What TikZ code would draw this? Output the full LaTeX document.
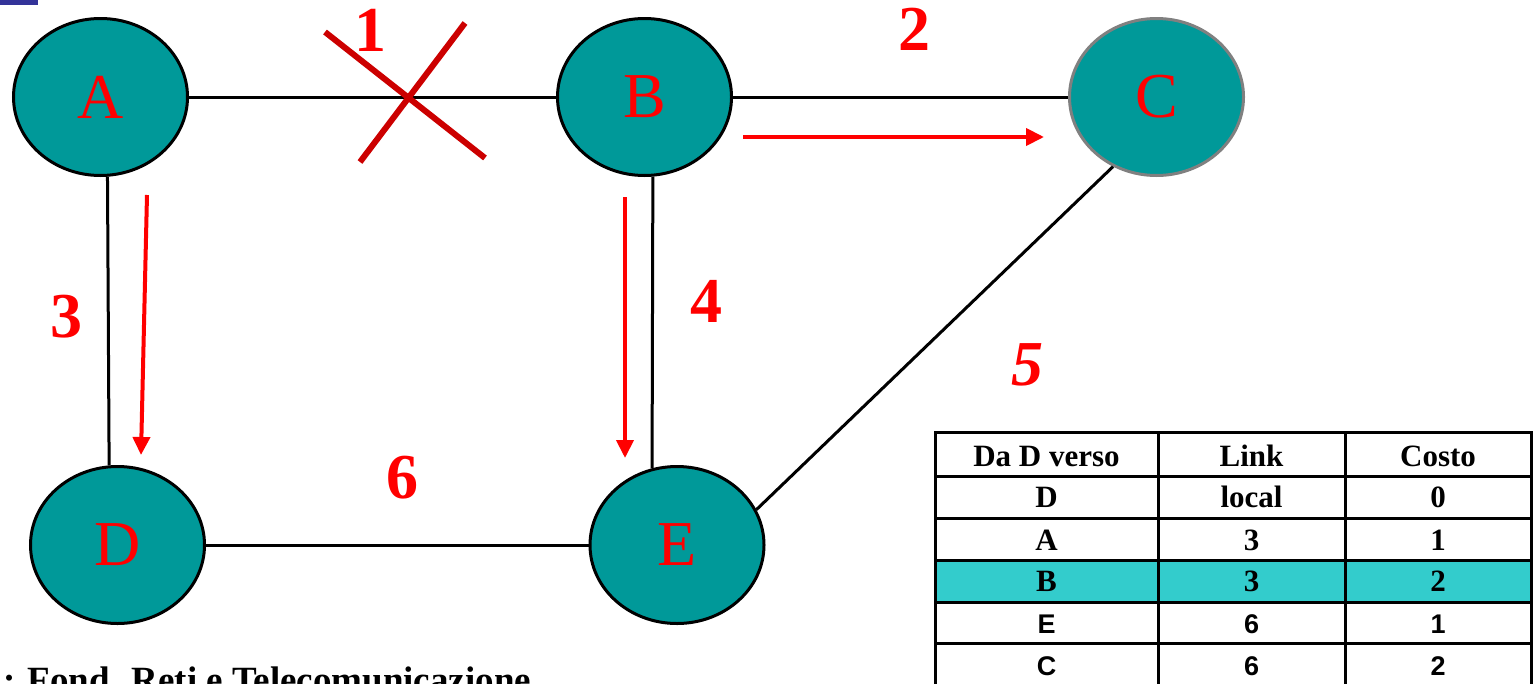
\documentclass[tikz,border=0pt]{standalone}
\usepackage{fontspec}
\setmainfont{Liberation Serif}
\setsansfont{Liberation Sans}
\usetikzlibrary{arrows.meta,shapes.geometric}
\definecolor{nodeteal}{HTML}{009999}
\definecolor{rowcyan}{HTML}{33CCCC}
\definecolor{crossred}{HTML}{CC0000}
\definecolor{barblue}{HTML}{333399}
\begin{document}
\begin{tikzpicture}[x=1pt,y=-1pt,
  router/.style={ellipse, draw=black, line width=3pt, fill=nodeteal,
    minimum width=174pt, minimum height=157pt, inner sep=0pt, text=red,
    font=\fontsize{64}{64}\selectfont},
  link/.style={line width=3pt},
  route/.style={draw=red, line width=4pt, -{Triangle[length=18pt,width=17pt]}},
  num/.style={text=red, inner sep=0pt, font=\fontsize{64}{64}\selectfont\bfseries},
  crossline/.style={draw=crossred, line width=6pt},
  grid/.style={line width=3pt},
  hdr/.style={inner sep=0pt, font=\fontsize{31}{31}\selectfont\bfseries},
  cell/.style={inner sep=0pt, font=\fontsize{27}{27}\selectfont\sffamily\bfseries}]
\useasboundingbox (0,0) rectangle (1533,683);
\clip (0,0) rectangle (1533,683);

% blue bar
\fill[barblue] (0,0) rectangle (38,5);

% routers
\node[router] (A) at (100.5,97) {A};
\node[router] (B) at (644.5,97) {B};
\node[router, draw=gray] (C) at (1156.5,97) {C};
\node[router] (D) at (117.5,545) {D};
\node[router] (E) at (677,545) {E};

% links
\draw[link] (A) -- (B);
\draw[link] (B) -- (C);
\draw[link] (A.-85) -- (D.96.5);
\draw[link] (B.-84.3) -- (E.108);
\draw[link] (D) -- (E);
\draw[link] (C.238.4) -- (E.24);

% broken link cross
\coordinate (x1) at (325,32);
\coordinate (x2) at (485,158);
\coordinate (x3) at (465,23);
\coordinate (x4) at (360,162);
\draw[crossline] (x1) -- (x2);
\draw[crossline] (x3) -- (x4);

% route arrows
\coordinate (r1s) at (743,137);
\coordinate (r1e) at (1044,137);
\coordinate (r2s) at (147,195);
\coordinate (r2e) at (141,455);
\coordinate (r3s) at (625,197);
\coordinate (r3e) at (625,458);
\draw[route] (r1s) -- (r1e);
\draw[route] (r2s) -- (r2e);
\draw[route] (r3s) -- (r3e);

% link numbers
\node[num] (n1) at (370,30) {1};
\node[num] (n2) at (914,29) {2};
\node[num] (n3) at (66,317) {3};
\node[num] (n4) at (706,301) {4};
\node[num, font=\fontsize{64}{64}\selectfont\bfseries\itshape] (n5) at (1027,365) {5};
\node[num] (n6) at (402,478) {6};

% table
\fill[rowcyan] (935,560) rectangle (1533,602);
\draw[grid] (935,432) rectangle (1531,686);
\foreach \yy in {476,518,560,602,643} \draw[grid] (935,\yy) -- (1531,\yy);
\foreach \xx in {1158,1345} \draw[grid] (\xx,432) -- (\xx,686);

\node[hdr] (h1) at (1046.5,456) {Da D verso};
\node[hdr] (h2) at (1251.5,456) {Link};
\node[hdr] (h3) at (1438,456) {Costo};
\node[hdr] (d1) at (1046.5,497) {D};
\node[hdr] (d2) at (1251.5,497) {local};
\node[hdr] (d3) at (1438,497) {0};
\node[hdr] (a1) at (1046.5,540) {A};
\node[hdr] (a2) at (1251.5,540) {3};
\node[hdr] (a3) at (1438,540) {1};
\node[hdr] (b1) at (1046.5,581) {B};
\node[hdr] (b2) at (1251.5,581) {3};
\node[hdr] (b3) at (1438,581) {2};
\node[cell] (e1) at (1046.5,624) {E};
\node[cell] (e2) at (1251.5,624) {6};
\node[cell] (e3) at (1438,624) {1};
\node[cell] (c1) at (1046.5,666) {C};
\node[cell] (c2) at (1251.5,666) {6};
\node[cell] (c3) at (1438,666) {2};

% footer (cut off at the lower edge, as in the reference)
\node[anchor=base west, inner sep=0pt, font=\fontsize{37}{37}\selectfont\bfseries] (foot) at (3,692) {: Fond. Reti e Telecomunicazione};
\end{tikzpicture}
\end{document}
